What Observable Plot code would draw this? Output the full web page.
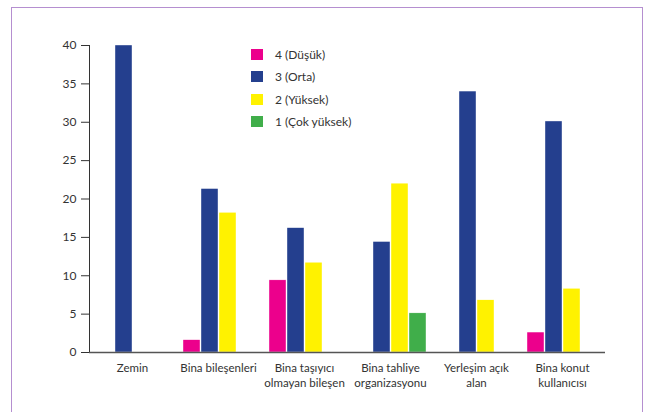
<!DOCTYPE html>
<html>
<head>
<meta charset="utf-8">
<script src="https://cdn.jsdelivr.net/npm/d3@7"></script>
<script src="https://cdn.jsdelivr.net/npm/@observablehq/plot@0.6"></script>
<style>
  html, body { margin: 0; padding: 0; background: #fff; }
  #wrap { position: relative; width: 646px; height: 412px; overflow: hidden; font-family: Lato, "Open Sans", sans-serif; }
  #border { position: absolute; left: 11px; top: 7px; width: 632px; height: 430px; border: 1.6px solid #b58fd0; box-sizing: border-box; }
  #chart { position: absolute; left: 0; top: 0; }
  #legend { position: absolute; left: 251px; top: 43px; font-size: 12px; color: #333; }
  .item { display: flex; align-items: center; height: 22.5px; }
  .sw { width: 12px; height: 11px; margin-right: 12px; }
</style>
</head>
<body>
<div id="wrap">
  <div id="border"></div>
  <div id="chart"></div>
  <div id="legend"></div>
</div>
<script>
const categories = ["Zemin", "Bina bileşenleri", "Bina taşıyıcı olmayan bileşen", "Bina tahliye organizasyonu", "Yerleşim açık alan", "Bina konut kullanıcısı"];
const categoryLabels = ["Zemin", "Bina bileşenleri", "Bina taşıyıcı\nolmayan bileşen", "Bina tahliye\norganizasyonu", "Yerleşim açık\nalan", "Bina konut\nkullanıcısı"];
const seriesNames = ["4 (Düşük)", "3 (Orta)", "2 (Yüksek)", "1 (Çok yüksek)"];
const seriesColors = ["#ec008c", "#243f8e", "#fff200", "#40ae4a"];
const s4 = [null, 1.6, 9.4, null, null, 2.6];
const s3 = [40, 21.3, 16.2, 14.4, 34, 30.1];
const s2 = [null, 18.2, 11.7, 22, 6.8, 8.3];
const s1 = [null, null, null, 5.1, null, null];
const yTicks = [0, 5, 10, 15, 20, 25, 30, 35, 40];

const seriesValues = [s4, s3, s2, s1];
const data = [];
categories.forEach((c, i) => {
  seriesNames.forEach((s, j) => {
    const v = seriesValues[j][i];
    if (v != null) data.push({category: c, series: s, value: v});
  });
});

const chart = Plot.plot({
  width: 646,
  height: 412,
  marginLeft: 89,
  marginRight: 41,
  marginTop: 45,
  marginBottom: 60,
  style: {fontFamily: "Lato, 'Open Sans', sans-serif", fontSize: "12px", color: "#333", background: "transparent"},
  fx: {domain: categories, padding: 0, label: null},
  x: {domain: seriesNames, paddingInner: 0.05, paddingOuter: 0.3, align: 0.53, axis: null},
  y: {domain: [0, 40], ticks: yTicks, tickSize: 8, tickPadding: 5, label: null, line: true},
  color: {domain: seriesNames, range: seriesColors},
  marks: [
    Plot.barY(data, {fx: "category", x: "series", y: "value", fill: "series", stroke: "#ffffff", strokeWidth: 0.4}),
    Plot.ruleY([0], {stroke: "#555", strokeWidth: 1.4}),
    Plot.axisFx({anchor: "bottom", label: null, tickSize: 0, tickPadding: 9, lineHeight: 1.3,
                 fontSize: 11.5, tickFormat: d => categoryLabels[categories.indexOf(d)]})
  ]
});
document.getElementById("chart").appendChild(chart);

const legend = document.getElementById("legend");
seriesNames.forEach((s, j) => {
  const item = document.createElement("div");
  item.className = "item";
  const sw = document.createElement("div");
  sw.className = "sw";
  sw.style.background = seriesColors[j];
  const t = document.createElement("span");
  t.textContent = s;
  item.appendChild(sw);
  item.appendChild(t);
  legend.appendChild(item);
});
</script>
</body>
</html>
